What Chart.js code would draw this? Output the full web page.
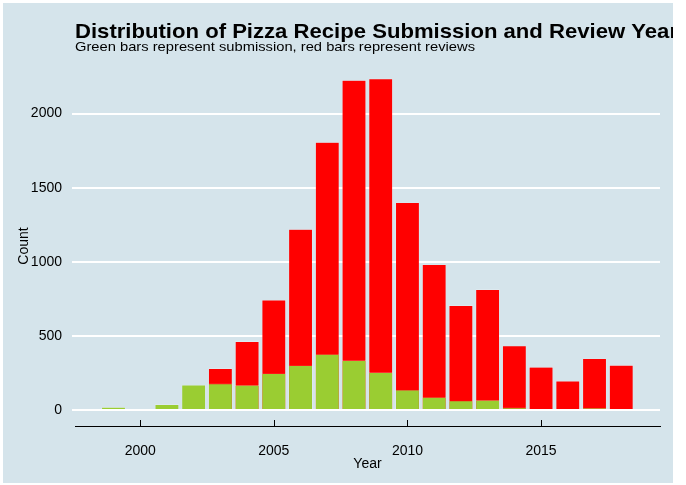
<!DOCTYPE html>
<html>
<head>
<meta charset="utf-8">
<script src="https://cdn.jsdelivr.net/npm/chart.js@4.4.1/dist/chart.umd.min.js"></script>
<style>
  body { margin: 0; background: #ffffff; }
  #wrap { width: 686px; height: 485px; }
</style>
</head>
<body>
<div id="wrap"><canvas id="pizzaChart" width="686" height="485"></canvas></div>
<script>
// Data
const years = [1999, 2000, 2001, 2002, 2003, 2004, 2005, 2006, 2007, 2008,
               2009, 2010, 2011, 2012, 2013, 2014, 2015, 2016, 2017, 2018];
const submissions = [20, 7, 38, 170, 178, 168, 247, 301, 376, 335,
                     254, 135, 86, 63, 67, 16, 7, 0, 13, 5];
const reviews = [0, 0, 0, 0, 281, 463, 742, 1220, 1807, 2225,
                 2236, 1400, 982, 706, 814, 434, 290, 196, 348, 303];
const xTicks = [2000, 2005, 2010, 2015];
const yTicks = [0, 500, 1000, 1500, 2000];

const BG = '#d5e4eb';
const FONT = '"Liberation Sans", Arial, sans-serif';

// draw text stretched horizontally to a given width (the reference text is a bit wide)
function wideText(ctx, text, x, y, width) {
    const w = ctx.measureText(text).width;
    ctx.save();
    ctx.translate(x, y);
    ctx.scale(width / w, 1);
    ctx.fillText(text, 0, 0);
    ctx.restore();
}

// Background panel, titles, axis titles and inside x ticks
const decorPlugin = {
    id: 'decor',
    beforeDraw(chart) {
        const ctx = chart.ctx;
        ctx.save();
        ctx.fillStyle = BG;
        ctx.fillRect(3, 3, 670, 480);
        ctx.restore();
    },
    afterDraw(chart) {
        const ctx = chart.ctx;
        const area = chart.chartArea;
        const x = chart.scales.x;
        ctx.save();
        // ticks pointing up into the panel
        ctx.strokeStyle = '#000';
        ctx.lineWidth = 1;
        xTicks.forEach(v => {
            const px = Math.round(x.getPixelForValue(v)) + 0.5;
            ctx.beginPath();
            ctx.moveTo(px, area.bottom);
            ctx.lineTo(px, area.bottom - 6);
            ctx.stroke();
        });
        // title runs off the panel edge in the original, so clip it there
        ctx.beginPath();
        ctx.rect(3, 3, 670, 480);
        ctx.clip();
        ctx.fillStyle = '#000';
        ctx.textAlign = 'left';
        ctx.textBaseline = 'alphabetic';
        ctx.font = 'bold 21px ' + FONT;
        wideText(ctx, 'Distribution of Pizza Recipe Submission and Review Year', 75, 38, 603);
        ctx.font = '13px ' + FONT;
        wideText(ctx, 'Green bars represent submission, red bars represent reviews', 75, 51, 400);
        // axis titles
        ctx.textAlign = 'center';
        ctx.font = '14px ' + FONT;
        ctx.fillText('Year', (area.left + area.right) / 2, 468);
        ctx.translate(28, 246);
        ctx.rotate(-Math.PI / 2);
        ctx.fillText('Count', 0, 0);
        ctx.restore();
    }
};

const ctx = document.getElementById('pizzaChart').getContext('2d');
const pizzaChart = new Chart(ctx, {
    type: 'bar',
    data: {
        datasets: [{
            label: 'Submissions',
            data: years.map((y, i) => ({ x: y, y: submissions[i] })),
            backgroundColor: '#9acd32',
            borderColor: 'rgba(255,255,255,0.35)',
            borderWidth: 0.6,
            grouped: false,
            order: 0
        }, {
            label: 'Reviews',
            data: years.map((y, i) => ({ x: y, y: reviews[i] })),
            backgroundColor: '#ff0000',
            borderColor: 'rgba(255,255,255,0.35)',
            borderWidth: 0.6,
            grouped: false,
            order: 1
        }]
    },
    options: {
        responsive: false,
        devicePixelRatio: 1,
        animation: false,
        barPercentage: 0.9,
        categoryPercentage: 1,
        layout: { padding: { top: 62, right: 26, left: 0, bottom: 0 } },
        plugins: {
            legend: { display: false },
            tooltip: { enabled: false },
            title: { display: false }
        },
        scales: {
            x: {
                type: 'linear',
                offset: false,
                min: 1997.56,
                max: 2019.45,
                afterBuildTicks: axis => { axis.ticks = xTicks.map(v => ({ value: v })); },
                afterFit: axis => { axis.height = 59; },
                grid: { display: false, drawTicks: false },
                border: { display: true, color: '#000', width: 1 },
                ticks: {
                    color: '#000',
                    font: { family: FONT, size: 14 },
                    padding: 17,
                    maxRotation: 0,
                    callback: v => String(v)
                }
            },
            y: {
                min: -108,
                max: 2348,
                afterBuildTicks: axis => { axis.ticks = yTicks.map(v => ({ value: v })); },
                afterFit: axis => { axis.width = 75; },
                grid: { color: '#ffffff', lineWidth: 2, tickLength: 3 },
                border: { display: false },
                ticks: {
                    color: '#000',
                    font: { family: FONT, size: 14 },
                    padding: 10,
                    callback: v => String(v)
                }
            }
        }
    },
    plugins: [decorPlugin]
});
</script>
</body>
</html>
